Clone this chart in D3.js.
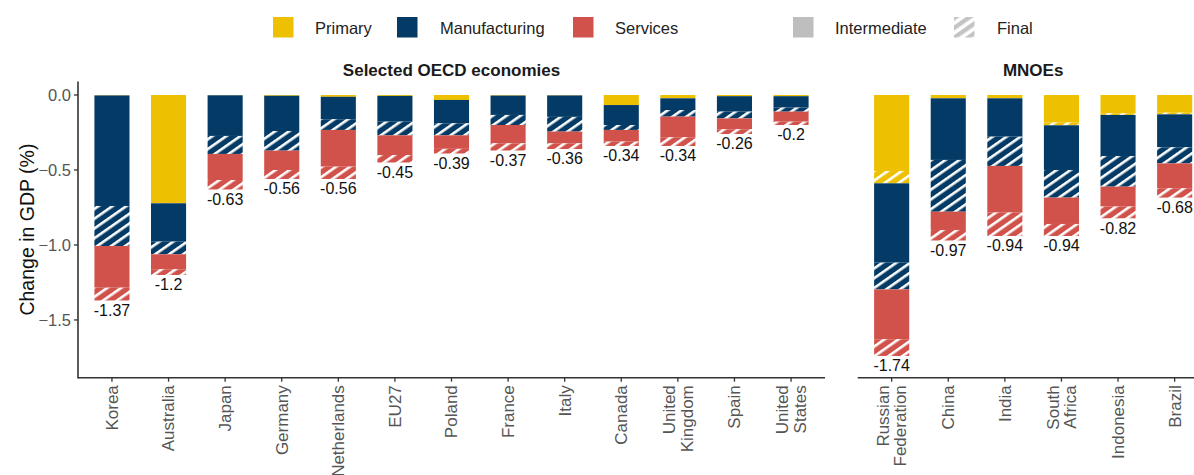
<!DOCTYPE html>
<html><head><meta charset="utf-8">
<script src="https://cdn.jsdelivr.net/npm/d3@7/dist/d3.min.js"></script>
<style>body{margin:0;background:#fff} svg{display:block}</style>
</head><body><svg id="c" width="1194" height="475"></svg>
<script>
// ---- DATA ----
const seriesKeys = ["Primary (intermediate)","Primary (final)","Manufacturing (intermediate)","Manufacturing (final)","Services (intermediate)","Services (final)"];
const sectorNames = ["Primary","Manufacturing","Services"];
const demandNames = ["Intermediate","Final"];

const oecdCategories = ["Korea","Australia","Japan","Germany","Netherlands","EU27","Poland","France","Italy","Canada","United Kingdom","Spain","United States"];
const oecdPrimaryInt = [0.003,0.72,0.002,0.005,0.012,0.006,0.033,0.004,0.003,0.067,0.022,0.008,0.008];
const oecdPrimaryFin = [0,0.002,0,0,0,0,0,0,0,0,0,0,0];
const oecdManufInt   = [0.737,0.256,0.271,0.235,0.15,0.172,0.156,0.129,0.143,0.133,0.078,0.103,0.076];
const oecdManufFin   = [0.267,0.084,0.12,0.131,0.071,0.091,0.08,0.067,0.098,0.033,0.044,0.045,0.027];
const oecdServInt    = [0.278,0.1,0.174,0.129,0.245,0.131,0.09,0.122,0.078,0.078,0.138,0.073,0.067];
const oecdServFin    = [0.085,0.038,0.063,0.06,0.082,0.05,0.031,0.048,0.038,0.029,0.058,0.031,0.022];
const oecdTotals     = ["-1.37","-1.2","-0.63","-0.56","-0.56","-0.45","-0.39","-0.37","-0.36","-0.34","-0.34","-0.26","-0.2"];

const mnoeCategories = ["Russian Federation","China","India","South Africa","Indonesia","Brazil"];
const mnoePrimaryInt = [0.507,0.022,0.022,0.184,0.122,0.118];
const mnoePrimaryFin = [0.082,0,0,0.018,0.011,0.011];
const mnoeManufInt   = [0.529,0.411,0.256,0.298,0.274,0.22];
const mnoeManufFin   = [0.178,0.345,0.195,0.184,0.204,0.107];
const mnoeServInt    = [0.333,0.122,0.311,0.176,0.133,0.166];
const mnoeServFin    = [0.111,0.07,0.156,0.08,0.078,0.062];
const mnoeTotals     = ["-1.74","-0.97","-0.94","-0.94","-0.82","-0.68"];

const yTicks = [0,-0.5,-1.0,-1.5];
const panelTitles = ["Selected OECD economies","MNOEs"];
const yTitle = "Change in GDP (%)";
const tickLabelLines = {"United Kingdom":["United","Kingdom"],"United States":["United","States"],"Russian Federation":["Russian","Federation"],"South Africa":["South","Africa"]};

// ---- STYLE ----
const colors = {Primary:"#EDC001", Manufacturing:"#033B66", Services:"#D1524B"};
const font = "'Liberation Sans', Arial, Helvetica, sans-serif";

const svg = d3.select("#c");
const defs = svg.append("defs");
function stripePattern(id, bg, fg, sw){
  const p = defs.append("pattern").attr("id", id).attr("patternUnits","userSpaceOnUse")
    .attr("width", 8).attr("height", 8).attr("patternTransform","rotate(-35)");
  p.append("rect").attr("width",8).attr("height",8).attr("fill",bg);
  p.append("rect").attr("y",0).attr("width",8).attr("height",sw).attr("fill",fg);
}
stripePattern("hat-Primary", colors.Primary, "#fff", 2.6);
stripePattern("hat-Manufacturing", colors.Manufacturing, "#fff", 2.6);
stripePattern("hat-Services", colors.Services, "#fff", 2.6);
stripePattern("hat-legend", "#fff", "#C4C4C4", 4.4);

const y = d3.scaleLinear().domain([-1.885, 0.09]).range([377.7, 81.5]);

function buildRows(cats, pi, pf, mi, mf, si, sf){
  return cats.map((c,i)=>({cat:c, vals:[pi[i],pf[i],mi[i],mf[i],si[i],sf[i]]}));
}
const panels = [
  {title: panelTitles[0], rows: buildRows(oecdCategories,oecdPrimaryInt,oecdPrimaryFin,oecdManufInt,oecdManufFin,oecdServInt,oecdServFin), totals: oecdTotals, range:[78,825], yAxis:true},
  {title: panelTitles[1], rows: buildRows(mnoeCategories,mnoePrimaryInt,mnoePrimaryFin,mnoeManufInt,mnoeManufFin,mnoeServInt,mnoeServFin), totals: mnoeTotals, range:[857.7,1208.6], yAxis:false}
];

panels.forEach(panel=>{
  const x = d3.scaleBand().domain(panel.rows.map(r=>r.cat)).range(panel.range)
    .paddingInner(0.38).paddingOuter(0.29);
  const g = svg.append("g");
  panel.rows.forEach((r,ri)=>{
    let cum = 0;
    r.vals.forEach((v,k)=>{
      const sector = sectorNames[Math.floor(k/2)];
      const fin = k%2===1;
      const top = -cum, bot = -(cum+v);
      cum += v;
      if (v<=0) return;
      g.append("rect").attr("x", x(r.cat)).attr("width", x.bandwidth())
        .attr("y", y(top)).attr("height", y(bot)-y(top))
        .attr("fill", fin ? `url(#hat-${sector})` : colors[sector]);
    });
    g.append("text").attr("x", x(r.cat)+x.bandwidth()/2).attr("y", y(-cum)+10)
      .attr("text-anchor","middle").attr("dominant-baseline","central")
      .attr("font-family",font).attr("font-size",16).attr("fill","#111")
      .text(panel.totals[ri]);
  });
  // x axis
  const ax = g.append("g").attr("transform","translate(0,377.7)");
  ax.append("line").attr("x1",panel.range[0]).attr("x2",panel.range[1]).attr("stroke","#333").attr("stroke-width",1.6);
  panel.rows.forEach(r=>{
    const cx = x(r.cat)+x.bandwidth()/2;
    ax.append("line").attr("x1",cx).attr("x2",cx).attr("y1",0).attr("y2",4).attr("stroke","#333").attr("stroke-width",1.3);
    const lines = tickLabelLines[r.cat] || [r.cat];
    const t = ax.append("text").attr("transform",`translate(${cx},7.5) rotate(-90)`)
      .attr("text-anchor","end").attr("font-family",font).attr("font-size",17).attr("fill","#555");
    lines.forEach((ln,li)=>{
      const dy = lines.length===1 ? 0.35 : (li===0 ? -0.17 : 0.87);
      t.append("tspan").attr("x",0).attr("y",0).attr("dy",dy+"em").text(ln);
    });
  });
  // title
  svg.append("text").attr("x",(panel.range[0]+panel.range[1])/2).attr("y",70)
    .attr("text-anchor","middle").attr("dominant-baseline","central")
    .attr("font-family",font).attr("font-weight","bold").attr("font-size",17).attr("fill","#1a1a1a")
    .text(panel.title);
  if (panel.yAxis){
    const ay = svg.append("g").attr("transform",`translate(${panel.range[0]},0)`);
    ay.append("line").attr("y1",y.range()[1]).attr("y2",y.range()[0]+0.8).attr("stroke","#333").attr("stroke-width",1.6);
    yTicks.forEach(t=>{
      ay.append("line").attr("x1",-4).attr("x2",0).attr("y1",y(t)).attr("y2",y(t)).attr("stroke","#333").attr("stroke-width",1.3);
      ay.append("text").attr("x",-7).attr("y",y(t)).attr("text-anchor","end").attr("dominant-baseline","central")
        .attr("font-family",font).attr("font-size",16.5).attr("fill","#555").text(d3.format(".1f")(t));
    });
    svg.append("text").attr("transform",`translate(34,${(y.range()[0]+y.range()[1])/2}) rotate(-90)`)
      .attr("text-anchor","middle").attr("font-family",font).attr("font-size",19.5).attr("fill","#111").text(yTitle);
  }
});

// legend
const legendItems = [
  {label:sectorNames[0], fill:colors.Primary, x:273, tx:315},
  {label:sectorNames[1], fill:colors.Manufacturing, x:397, tx:440},
  {label:sectorNames[2], fill:colors.Services, x:573, tx:615},
  {label:demandNames[0], fill:"#BEBEBE", x:793, tx:835},
  {label:demandNames[1], fill:"url(#hat-legend)", x:954, tx:997}
];
const lg = svg.append("g");
legendItems.forEach(d=>{
  lg.append("rect").attr("x",d.x).attr("y",17).attr("width",20.5).attr("height",20.5).attr("fill",d.fill);
  lg.append("text").attr("x",d.tx).attr("y",27.5).attr("dominant-baseline","central")
    .attr("font-family",font).attr("font-size",16.5).attr("fill","#222").text(d.label);
});
</script></body></html>
